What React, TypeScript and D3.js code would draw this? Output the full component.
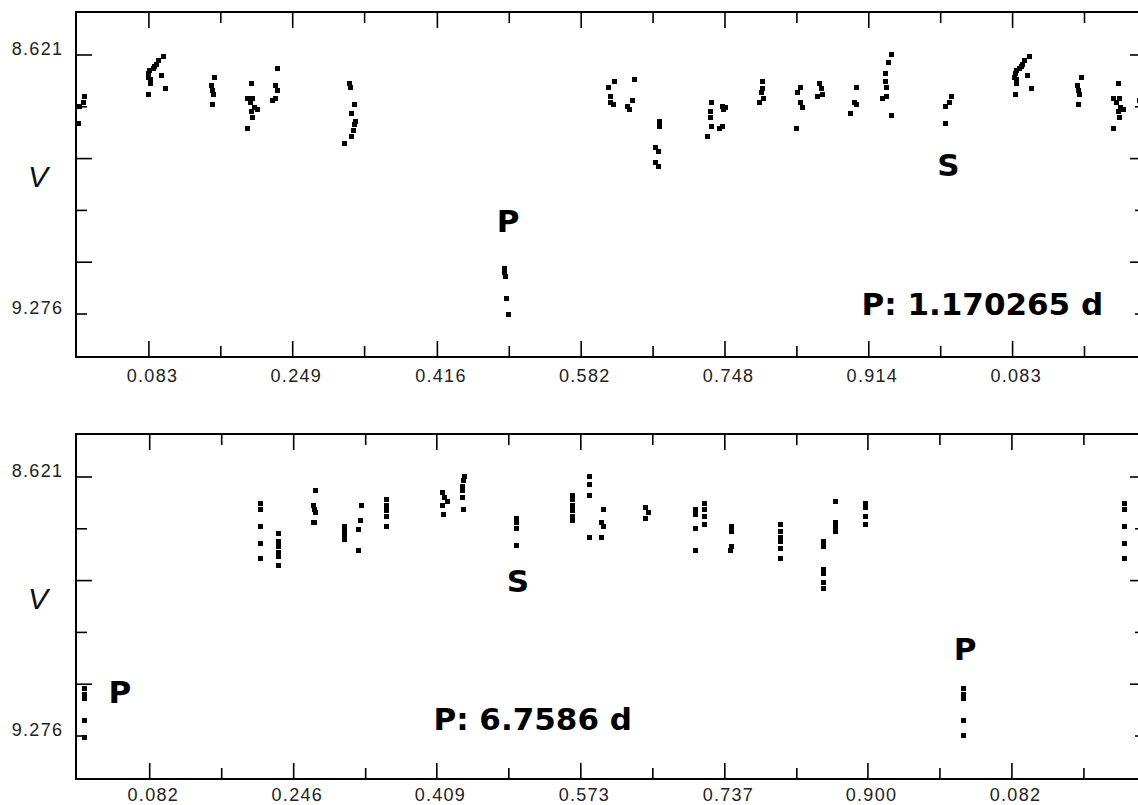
import React from "react";
import * as d3 from "d3";

// [phase, V mag] for the 1.170265 d fold
const shortPeriodPoints: [number, number][] = [
  [0.009, 8.727], [0.007, 8.74], [0.003, 8.75], [0.002, 8.793],
  [0.083, 8.72], [0.082, 8.677], [0.083, 8.669], [0.084, 8.661], [0.085, 8.684], [0.085, 8.694],
  [0.088, 8.654], [0.09, 8.649], [0.092, 8.644], [0.094, 8.634], [0.1, 8.624], [0.097, 8.672], [0.102, 8.707],
  [0.159, 8.679], [0.155, 8.699], [0.156, 8.71], [0.157, 8.72], [0.156, 8.745],
  [0.202, 8.692], [0.197, 8.73], [0.203, 8.732], [0.2, 8.742], [0.205, 8.753], [0.208, 8.76],
  [0.202, 8.765], [0.203, 8.778], [0.197, 8.806],
  [0.232, 8.656], [0.229, 8.697], [0.231, 8.71], [0.229, 8.73], [0.226, 8.737],
  [0.315, 8.692], [0.316, 8.702], [0.32, 8.745], [0.317, 8.768], [0.322, 8.79], [0.32, 8.798],
  [0.319, 8.811], [0.317, 8.828], [0.309, 8.846],
  [0.494, 9.16], [0.493, 9.17], [0.495, 9.18], [0.496, 9.236], [0.498, 9.276],
  [0.62, 8.689], [0.614, 8.702], [0.616, 8.725], [0.616, 8.74], [0.619, 8.745],
  [0.644, 8.684], [0.641, 8.737], [0.636, 8.75], [0.638, 8.758],
  [0.672, 8.79], [0.672, 8.801], [0.668, 8.854], [0.671, 8.864], [0.668, 8.892], [0.671, 8.904],
  [0.733, 8.74], [0.731, 8.765], [0.731, 8.778], [0.733, 8.803], [0.728, 8.828],
  [0.745, 8.75], [0.749, 8.755], [0.746, 8.76], [0.745, 8.803], [0.742, 8.808],
  [0.791, 8.689], [0.791, 8.707], [0.79, 8.717], [0.792, 8.73], [0.788, 8.742],
  [0.835, 8.704], [0.832, 8.717], [0.835, 8.742], [0.837, 8.753], [0.831, 8.806],
  [0.857, 8.694], [0.859, 8.707], [0.861, 8.72], [0.855, 8.727],
  [0.9, 8.704], [0.897, 8.74], [0.9, 8.747], [0.893, 8.77],
  [0.94, 8.621], [0.937, 8.641], [0.933, 8.667], [0.933, 8.689], [0.935, 8.704],
  [0.934, 8.727], [0.93, 8.732], [0.94, 8.773],
];

// [phase, V mag] for the 6.7586 d fold
const longPeriodPoints: [number, number][] = [
  [0.008, 9.157], [0.008, 9.17], [0.008, 9.182], [0.008, 9.236], [0.008, 9.279],
  [0.208, 8.689], [0.208, 8.702], [0.208, 8.745], [0.208, 8.788], [0.208, 8.828],
  [0.229, 8.765], [0.229, 8.785], [0.229, 8.798], [0.229, 8.811], [0.229, 8.823], [0.229, 8.846],
  [0.271, 8.656], [0.268, 8.694], [0.27, 8.704], [0.271, 8.712], [0.27, 8.735], [0.268, 8.737],
  [0.304, 8.745], [0.304, 8.758], [0.304, 8.77], [0.304, 8.778],
  [0.323, 8.692], [0.322, 8.732], [0.32, 8.753], [0.32, 8.808],
  [0.352, 8.677], [0.352, 8.692], [0.352, 8.707], [0.352, 8.722], [0.352, 8.745],
  [0.416, 8.659], [0.418, 8.674], [0.421, 8.684], [0.416, 8.692], [0.417, 8.717],
  [0.44, 8.621], [0.439, 8.629], [0.438, 8.646], [0.438, 8.654], [0.438, 8.672], [0.439, 8.704],
  [0.5, 8.725], [0.5, 8.737], [0.5, 8.75], [0.5, 8.793],
  [0.564, 8.667], [0.564, 8.679], [0.564, 8.694], [0.564, 8.707], [0.564, 8.72], [0.564, 8.732],
  [0.583, 8.621], [0.583, 8.639], [0.583, 8.667], [0.583, 8.773],
  [0.599, 8.704], [0.597, 8.737], [0.599, 8.747], [0.597, 8.773],
  [0.647, 8.697], [0.65, 8.71], [0.647, 8.725],
  [0.704, 8.704], [0.704, 8.715], [0.704, 8.75], [0.704, 8.808],
  [0.714, 8.687], [0.714, 8.704], [0.714, 8.722], [0.714, 8.74],
  [0.745, 8.745], [0.745, 8.758], [0.745, 8.798], [0.743, 8.808],
  [0.8, 8.74], [0.8, 8.76], [0.8, 8.773], [0.8, 8.783], [0.8, 8.801], [0.8, 8.828],
  [0.849, 8.785], [0.849, 8.798], [0.849, 8.854], [0.849, 8.866], [0.849, 8.889], [0.849, 8.904],
  [0.863, 8.684], [0.863, 8.735], [0.863, 8.747], [0.863, 8.76],
  [0.897, 8.687], [0.897, 8.699], [0.897, 8.72], [0.897, 8.742],
];

// points drawn again past phase 1 on the long fold
const longPeriodRepeat: [number, number][] = [
  [1.009, 9.157], [1.009, 9.17], [1.009, 9.182], [1.009, 9.236], [1.009, 9.275],
  [1.192, 8.689], [1.192, 8.702], [1.192, 8.745], [1.192, 8.788], [1.192, 8.828],
];

const shortTicks = [0.083, 0.249, 0.416, 0.582, 0.748, 0.914, 1.08];
const shortTickLabels = ["0.083", "0.249", "0.416", "0.582", "0.748", "0.914", "0.083"];
const longTicks = [0.082, 0.246, 0.409, 0.573, 0.737, 0.9, 1.064];
const longTickLabels = ["0.082", "0.246", "0.409", "0.573", "0.737", "0.900", "0.082"];

const magTicks = [8.621, 8.752, 8.883, 9.014, 9.145, 9.276];
const magTickLabels = ["8.621", "", "", "", "", "9.276"];
const magDomain = [8.5123, 9.3847];

const shortNotes = [
  { text: "P", phase: 0.4875, mag: 9.069 },
  { text: "S", phase: 0.9959, mag: 8.927 },
  { text: "P: 1.170265 d", phase: 0.9085, mag: 9.279 },
];
const longNotes = [
  { text: "P", phase: 0.0379, mag: 9.193 },
  { text: "S", phase: 0.4916, mag: 8.912 },
  { text: "P: 6.7586 d", phase: 0.408, mag: 9.261 },
  { text: "P", phase: 1.0007, mag: 9.085 },
];

const W = 1138;
const H = 805;
const LEFT = 76;
const RIGHT = 1146;
const PH = 345;
const DOT = 5;
const labelFont = "'Liberation Sans', Arial, sans-serif";
const noteFont = "'DejaVu Sans', Verdana, sans-serif";

function Panel({ id, top, points, ticks, tickLabels, phaseDomain, notes, labelGap }) {
  const x = d3.scaleLinear().domain(phaseDomain).range([LEFT + 1, RIGHT]);
  const y = d3.scaleLinear().domain(magDomain).range([top, top + PH]);
  const step = ticks[1] - ticks[0];
  const minor = ticks.map((t) => t + step / 2);
  const bottom = top + PH;

  return (
    <g>
      <clipPath id={id}>
        <rect x={LEFT} y={top} width={RIGHT - LEFT} height={PH} />
      </clipPath>
      <g clipPath={`url(#${id})`} shapeRendering="crispEdges">
        {points.map(([p, m], i) => (
          <rect key={i} x={x(p) - DOT / 2} y={y(m) - DOT / 2} width={DOT} height={DOT} fill="#000" />
        ))}
      </g>

      <rect x={LEFT} y={top} width={RIGHT - LEFT} height={PH} fill="none" stroke="#000" strokeWidth={2} />

      <g stroke="#000" strokeWidth={1.6}>
        {ticks.map((t, i) => (
          <g key={"M" + i}>
            <line x1={x(t)} x2={x(t)} y1={top} y2={top + 16} />
            <line x1={x(t)} x2={x(t)} y1={bottom} y2={bottom - 16} />
          </g>
        ))}
        {minor.map((t, i) => (
          <g key={"m" + i}>
            <line x1={x(t)} x2={x(t)} y1={top} y2={top + 11} />
            <line x1={x(t)} x2={x(t)} y1={bottom} y2={bottom - 11} />
          </g>
        ))}
        {magTicks.map((m, i) => {
          const len = i % 2 === 0 ? 16 : 11;
          return (
            <g key={"y" + i}>
              <line x1={LEFT} x2={LEFT + len} y1={y(m)} y2={y(m)} />
              <line x1={RIGHT} x2={RIGHT - len} y1={y(m)} y2={y(m)} />
            </g>
          );
        })}
      </g>

      <g fontFamily={labelFont} fontSize={18} fill="#222" letterSpacing={1.3}>
        {ticks.map((t, i) => (
          <text key={i} x={x(t) + 3.6} y={bottom + labelGap} textAnchor="middle">
            {tickLabels[i]}
          </text>
        ))}
        {magTicks.map((m, i) =>
          magTickLabels[i] ? (
            <text key={"l" + i} x={63.3} y={y(m)} textAnchor="end">
              {magTickLabels[i]}
            </text>
          ) : null
        )}
      </g>

      <text x={38} y={top + 175} textAnchor="middle" fontFamily={labelFont} fontStyle="italic" fontSize={30} fill="#111">
        V
      </text>

      <g fontFamily={noteFont} fontWeight="bold" fontSize={31} fill="#000">
        {notes.map((n, i) => (
          <text key={i} x={x(n.phase) - 2.5} y={y(n.mag)}>
            {n.text}
          </text>
        ))}
      </g>
    </g>
  );
}

export default function App() {
  const shortEnd = 1.234;
  const shortAll = shortPeriodPoints.concat(
    shortPeriodPoints.filter(([p]) => p + 1 <= shortEnd).map(([p, m]) => [p + 1, m] as [number, number])
  );
  const longAll = longPeriodPoints.concat(longPeriodRepeat);

  return (
    <div style={{ position: "absolute", left: 0, top: 0, width: W, height: H, background: "#fff" }}>
      <svg width={W} height={H} viewBox={`0 0 ${W} ${H}`} style={{ display: "block" }}>
        <rect width={W} height={H} fill="#fff" />
        <Panel
          id="clip-short"
          top={12}
          points={shortAll}
          ticks={shortTicks}
          tickLabels={shortTickLabels}
          phaseDomain={[0, shortEnd]}
          notes={shortNotes}
          labelGap={25}
        />
        <Panel
          id="clip-long"
          top={434}
          points={longAll}
          ticks={longTicks}
          tickLabels={longTickLabels}
          phaseDomain={[-0.0008, 1.2167]}
          notes={longNotes}
          labelGap={21.5}
        />
      </svg>
    </div>
  );
}
